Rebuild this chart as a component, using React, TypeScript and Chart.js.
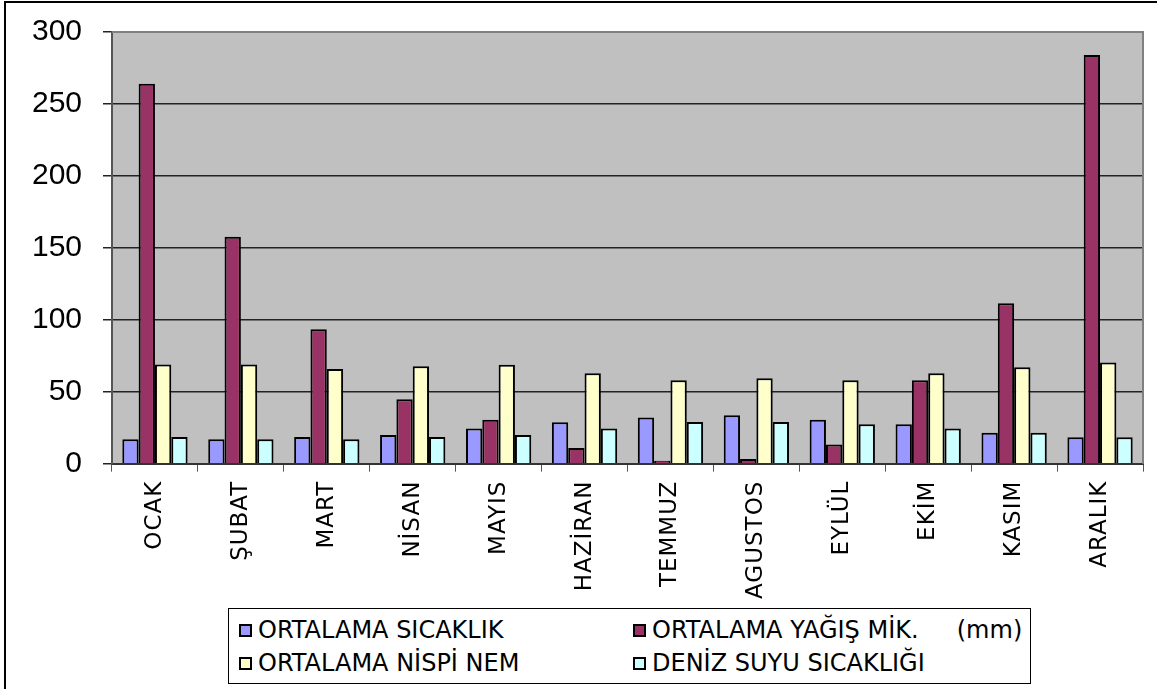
import React, { useEffect, useRef } from "react";
import { Chart, registerables } from "chart.js";

Chart.register(...registerables);

const months = ["OCAK", "ŞUBAT", "MART", "NİSAN", "MAYIS", "HAZİRAN", "TEMMUZ", "AGUSTOS", "EYLÜL", "EKİM", "KASIM", "ARALIK"];
const avgTemp = [17, 17, 18.5, 20, 24.4, 28.7, 32, 33.6, 30.6, 27.4, 21.4, 18.3];
const avgRain = [264, 157.7, 93.5, 44.7, 30.6, 10.9, 2, 3.2, 13.4, 58, 111.5, 284];
const avgHumidity = [69, 69, 65.8, 67.7, 68.7, 62.8, 58, 59.4, 58, 62.8, 67, 70.3];
const seaTemp = [18.5, 17, 17, 18.5, 20, 24.4, 29, 29, 27.4, 24.4, 21.4, 18.3];
const yTicks = [0, 50, 100, 150, 200, 250, 300];

const seriesNames = ["ORTALAMA SICAKLIK", "ORTALAMA YAĞIŞ MİK.     (mm)", "ORTALAMA NİSPİ NEM", "DENİZ SUYU SICAKLIĞI"];
const seriesColors = ["#9999FF", "#993366", "#FFFFCC", "#CCFFFF"];

const plotBg = {
  id: "plotBg",
  beforeDraw(chart: any) {
    const { ctx, chartArea: a } = chart;
    (ctx as any).letterSpacing = "0px";
    ctx.save();
    ctx.fillStyle = "#C0C0C0";
    ctx.fillRect(a.left, a.top, a.right - a.left, a.bottom - a.top);
    ctx.restore();
  },
  afterDatasetsDraw(chart: any) {
    const { ctx, chartArea: a } = chart;
    ctx.save();
    ctx.strokeStyle = "#808080";
    ctx.lineWidth = 2;
    ctx.beginPath();
    ctx.moveTo(a.left, a.top);
    ctx.lineTo(a.right, a.top);
    ctx.lineTo(a.right, a.bottom);
    ctx.stroke();
    ctx.restore();
    (ctx as any).letterSpacing = "1px";
  },
  afterDraw(chart: any) {
    (chart.ctx as any).letterSpacing = "0px";
  },
};

export default function App() {
  const ref = useRef<HTMLCanvasElement>(null);
  useEffect(() => {
    const data = [avgTemp, avgRain, avgHumidity, seaTemp];
    const chart = new Chart(ref.current!, {
      type: "bar",
      data: {
        labels: months,
        datasets: data.map((d, i) => ({
          label: seriesNames[i],
          data: d,
          backgroundColor: seriesColors[i],
          borderColor: "#000000",
          borderWidth: 2,
          borderSkipped: "bottom",
          categoryPercentage: 0.76,
          barPercentage: 1,
        })),
      },
      options: {
        animation: false,
        responsive: false,
        layout: { padding: { top: 32, right: 14, bottom: 88, left: 0 } },
        plugins: { legend: { display: false }, tooltip: { enabled: false } },
        scales: {
          x: {
            offset: true,
            grid: { offset: true, drawOnChartArea: false, tickLength: 8, color: "#555555", lineWidth: 1, z: 0 },
            border: { color: "#333333", width: 2, z: 0 },
            ticks: {
              z: 1,
              minRotation: 90,
              maxRotation: 90,
              padding: 9,
              color: "#000000",
              font: { family: "DejaVu Sans", size: 23 },
            },
          },
          y: {
            min: 0,
            max: 300,
            afterFit(scale: any) {
              scale.width = 112;
              scale.paddingTop = 0;
              scale.paddingBottom = 0;
            },
            afterBuildTicks(scale: any) {
              scale.ticks = yTicks.map((v) => ({ value: v }));
            },
            grid: { color: "#222222", lineWidth: 1.5, tickLength: 9 },
            border: { color: "#555555", width: 2 },
            ticks: {
              padding: 21,
              color: "#000000",
              font: { family: "Liberation Sans", size: 30, lineHeight: 1 },
            },
          },
        },
      },
      plugins: [plotBg],
    });
    return () => chart.destroy();
  }, []);

  const legendItem = (i: number, left: number, top: number) => (
    <div
      key={i}
      style={{
        position: "absolute",
        left,
        top,
        display: "flex",
        alignItems: "center",
        fontFamily: "DejaVu Sans",
        fontSize: 24,
        whiteSpace: "pre",
        color: "#000",
        lineHeight: "26px",
      }}
    >
      <span
        style={{
          display: "inline-block",
          width: 9,
          height: 9,
          border: "2px solid #000",
          background: seriesColors[i],
          marginRight: 6,
        }}
      />
      {seriesNames[i]}
    </div>
  );

  return (
    <div style={{ position: "absolute", left: 0, top: 0, width: 1157, height: 689, background: "#fff" }}>
      <div style={{ position: "absolute", left: 4, top: 1, width: 1160, height: 700, borderLeft: "2px solid #000", borderTop: "2px solid #000" }} />
      <canvas ref={ref} width={1157} height={689} style={{ position: "absolute", left: 0, top: 0 }} />
      <div
        style={{
          position: "absolute",
          left: 228,
          top: 608,
          width: 801,
          height: 74,
          border: "1.5px solid #000",
          background: "#fff",
        }}
      >
        {legendItem(0, 10, 8)}
        {legendItem(1, 404, 8)}
        {legendItem(2, 10, 41)}
        {legendItem(3, 404, 41)}
      </div>
    </div>
  );
}
